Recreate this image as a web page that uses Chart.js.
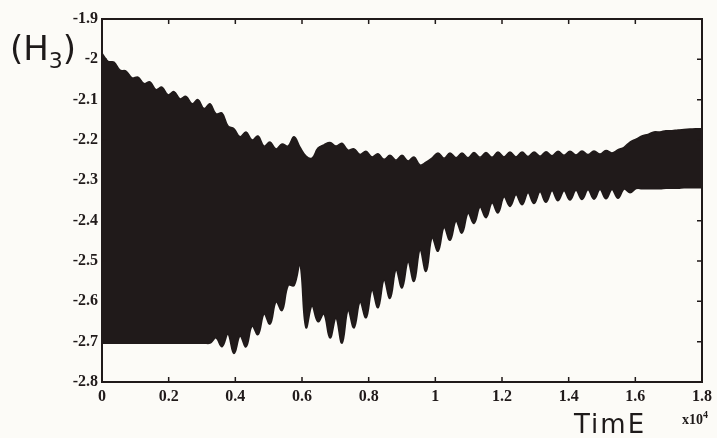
<!DOCTYPE html>
<html>
<head>
<meta charset="utf-8">
<script src="https://cdn.jsdelivr.net/npm/chart.js@4"></script>
<style>
  html, body { margin: 0; padding: 0; background: #fcfbf7; }
  #wrap { position: relative; width: 717px; height: 438px; }
  .hand { position: absolute; font-family: "DejaVu Sans", sans-serif; color: #1e1a1a; }
  #ylab { left: 10px; top: 28px; font-size: 34px; font-weight: 400; }
  #ylab sub { font-size: 22px; vertical-align: -8px; }
  #xlab { left: 574px; top: 409px; font-size: 26px; letter-spacing: 2px; }
  #xexp { position: absolute; left: 682px; top: 409px; font: bold 14px "Liberation Serif", serif; color: #1e1a1a; }
  #xexp sup { font-size: 10px; }
</style>
</head>
<body>
<div id="wrap">
  <canvas id="chart"></canvas>
  <div class="hand" id="ylab">(H<sub>3</sub>)</div>
  <div class="hand" id="xlab">TimE</div>
  <div id="xexp">x10<sup>4</sup></div>
</div>
<script>
// time axis, units of 10^4
const time = [0, 0.018, 0.036, 0.054, 0.072, 0.09, 0.108, 0.126, 0.144, 0.162, 0.18, 0.198, 0.216, 0.234, 0.252, 0.27, 0.288, 0.306, 0.324, 0.342,
  0.36, 0.378, 0.396, 0.414, 0.432, 0.45, 0.468, 0.486, 0.504, 0.522, 0.54, 0.558, 0.576, 0.594, 0.612, 0.63, 0.648, 0.666, 0.684, 0.702,
  0.72, 0.738, 0.756, 0.774, 0.792, 0.81, 0.828, 0.846, 0.864, 0.882, 0.9, 0.918, 0.936, 0.954, 0.972, 0.99, 1.008, 1.026, 1.044, 1.062,
  1.08, 1.098, 1.116, 1.134, 1.152, 1.17, 1.188, 1.206, 1.224, 1.242, 1.26, 1.278, 1.296, 1.314, 1.332, 1.35, 1.368, 1.386, 1.404, 1.422,
  1.44, 1.458, 1.476, 1.494, 1.512, 1.53, 1.548, 1.566, 1.584, 1.602, 1.62, 1.638, 1.656, 1.674, 1.692, 1.71, 1.728, 1.746, 1.764, 1.782, 1.8];

// upper edge of the oscillation band (peaks / dips)
const upperH3 = [-1.985, -2.005, -2.007, -2.027, -2.029, -2.046, -2.044, -2.060, -2.056, -2.075, -2.069, -2.088, -2.080, -2.098, -2.092, -2.110, -2.100, -2.122, -2.110, -2.135,
  -2.133, -2.165, -2.172, -2.192, -2.180, -2.200, -2.190, -2.215, -2.205, -2.222, -2.210, -2.215, -2.192, -2.218, -2.240, -2.245, -2.220, -2.212, -2.206, -2.215,
  -2.208, -2.225, -2.222, -2.236, -2.228, -2.242, -2.234, -2.248, -2.238, -2.250, -2.238, -2.252, -2.242, -2.262, -2.255, -2.245, -2.232, -2.245, -2.232, -2.244,
  -2.232, -2.244, -2.231, -2.243, -2.231, -2.243, -2.230, -2.242, -2.230, -2.242, -2.230, -2.241, -2.230, -2.240, -2.229, -2.239, -2.228, -2.238, -2.228, -2.237,
  -2.227, -2.236, -2.227, -2.235, -2.226, -2.232, -2.224, -2.218, -2.205, -2.198, -2.190, -2.186, -2.180, -2.180, -2.177, -2.177, -2.175, -2.174, -2.173, -2.172, -2.172];

// lower edge of the oscillation band (tooth tips / gaps)
const lowerH3 = [-2.703, -2.703, -2.703, -2.703, -2.703, -2.703, -2.703, -2.703, -2.703, -2.703, -2.703, -2.703, -2.703, -2.703, -2.703, -2.703, -2.703, -2.703, -2.703, -2.690,
  -2.712, -2.680, -2.729, -2.685, -2.712, -2.660, -2.682, -2.630, -2.656, -2.600, -2.622, -2.560, -2.560, -2.505, -2.664, -2.610, -2.650, -2.630, -2.690, -2.640,
  -2.703, -2.620, -2.665, -2.600, -2.640, -2.570, -2.615, -2.545, -2.592, -2.520, -2.566, -2.500, -2.550, -2.470, -2.525, -2.440, -2.475, -2.415, -2.448, -2.400,
  -2.430, -2.380, -2.406, -2.365, -2.392, -2.355, -2.380, -2.340, -2.364, -2.335, -2.360, -2.330, -2.357, -2.328, -2.354, -2.325, -2.350, -2.325, -2.348, -2.324,
  -2.347, -2.323, -2.346, -2.322, -2.345, -2.322, -2.344, -2.321, -2.330, -2.320, -2.320, -2.320, -2.320, -2.320, -2.319, -2.319, -2.319, -2.318, -2.318, -2.318, -2.318];

const INK = '#201a1a';

const framePlugin = {
    id: 'frame',
    afterDraw(chart) {
        const ctx = chart.ctx;
        const a = chart.chartArea;
        const xs = chart.scales.x, ys = chart.scales.y;
        ctx.save();
        ctx.strokeStyle = INK;
        ctx.lineWidth = 2;
        ctx.strokeRect(a.left, a.top, a.right - a.left, a.bottom - a.top);
        ctx.lineWidth = 1.5;
        ctx.beginPath();
        xs.ticks.forEach(t => {
            const px = xs.getPixelForValue(t.value);
            ctx.moveTo(px, a.bottom); ctx.lineTo(px, a.bottom - 5);
            ctx.moveTo(px, a.top); ctx.lineTo(px, a.top + 5);
        });
        ys.ticks.forEach(t => {
            const py = ys.getPixelForValue(t.value);
            ctx.moveTo(a.left, py); ctx.lineTo(a.left + 5, py);
            ctx.moveTo(a.right, py); ctx.lineTo(a.right - 5, py);
        });
        ctx.stroke();
        ctx.restore();
    }
};

const fmt = v => String(Number(v.toFixed(1)));

new Chart(document.getElementById('chart').getContext('2d'), {
    type: 'line',
    data: {
        datasets: [
            {
                label: 'upper',
                data: time.map((t, i) => ({ x: t, y: upperH3[i] })),
                borderColor: INK,
                backgroundColor: INK,
                borderWidth: 1.5,
                tension: 0.4,
                pointRadius: 0,
                fill: '+1'
            },
            {
                label: 'lower',
                data: time.map((t, i) => ({ x: t, y: lowerH3[i] })),
                borderColor: INK,
                backgroundColor: INK,
                borderWidth: 2,
                tension: 0.4,
                pointRadius: 0,
                fill: false
            }
        ]
    },
    options: {
        responsive: true,
        maintainAspectRatio: false,
        animation: false,
        layout: { padding: { top: 19, right: 10, left: 0, bottom: 0 } },
        plugins: {
            legend: { display: false },
            tooltip: { enabled: false }
        },
        scales: {
            x: {
                type: 'linear',
                min: 0,
                max: 1.8,
                grid: { display: false, drawTicks: false },
                border: { display: false },
                ticks: {
                    stepSize: 0.2,
                    padding: 5,
                    color: INK,
                    font: { family: 'Liberation Serif', size: 16, weight: 'bold' },
                    callback: fmt
                },
                afterFit(scale) { scale.height = 56; }
            },
            y: {
                min: -2.8,
                max: -1.9,
                grid: { display: false, drawTicks: false },
                border: { display: false },
                ticks: {
                    stepSize: 0.1,
                    padding: 4,
                    color: INK,
                    font: { family: 'Liberation Serif', size: 16, weight: 'bold' },
                    callback: fmt
                },
                afterFit(scale) { scale.width = 102; }
            }
        }
    },
    plugins: [framePlugin]
});
</script>
</body>
</html>
